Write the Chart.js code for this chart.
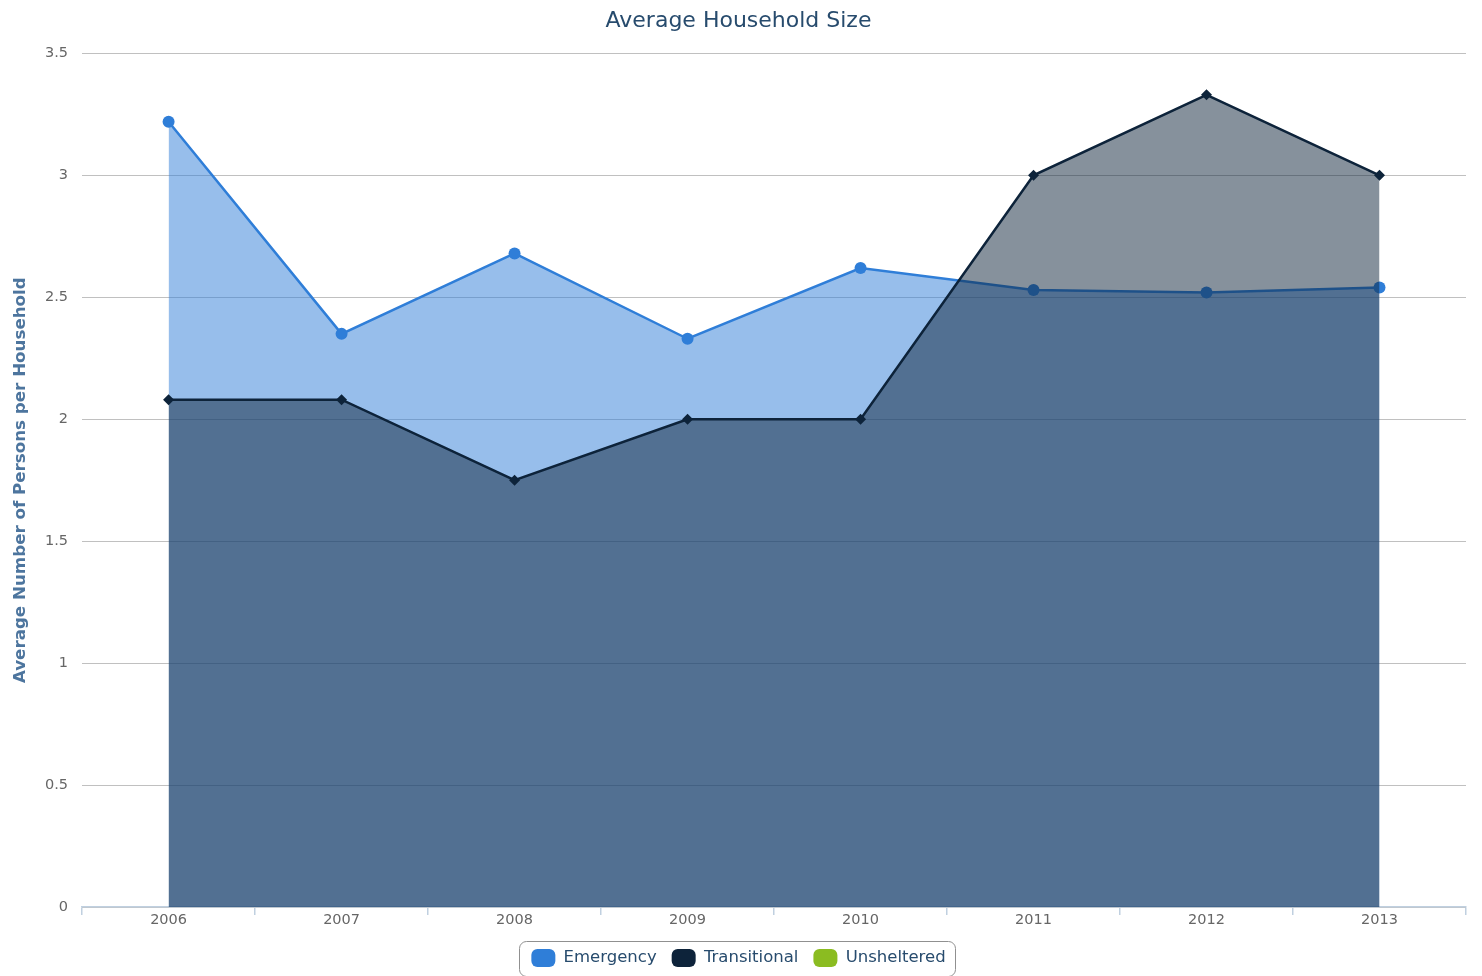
<!DOCTYPE html>
<html>
<head>
<meta charset="utf-8">
<script src="https://cdn.jsdelivr.net/npm/chart.js@4/dist/chart.umd.min.js"></script>
<style>
html,body{margin:0;padding:0;background:#fff;}
#wrap{width:1482px;height:976px;position:relative;}
</style>
</head>
<body>
<div id="wrap"><canvas id="c" width="1482" height="976"></canvas></div>
<script>
const categories = ['2006','2007','2008','2009','2010','2011','2012','2013'];
const emergency = [3.22, 2.35, 2.68, 2.33, 2.62, 2.53, 2.52, 2.54];
const transitional = [2.08, 2.08, 1.75, 2.00, 2.00, 3.00, 3.33, 3.00];
const unsheltered = [];
const seriesNames = ['Emergency','Transitional','Unsheltered'];
const yTicks = [0, 0.5, 1, 1.5, 2, 2.5, 3, 3.5];

const FONT = '"DejaVu Sans", Verdana, sans-serif';

const legendBox = {
  id: 'legendBox',
  afterDraw(chart) {
    const lg = chart.legend;
    if (!lg || !lg.legendHitBoxes || !lg.legendHitBoxes.length) return;
    const hb = lg.legendHitBoxes;
    let x0 = Infinity, x1 = -Infinity, y0 = Infinity, y1 = -Infinity;
    hb.forEach(h => { x0 = Math.min(x0, h.left); x1 = Math.max(x1, h.left + h.width); y0 = Math.min(y0, h.top); y1 = Math.max(y1, h.top + h.height); });
    const ctx = chart.ctx;
    ctx.save();
    ctx.strokeStyle = '#909090';
    ctx.lineWidth = 1;
    ctx.beginPath();
    const cy = (y0 + y1) / 2;
    ctx.roundRect(Math.round(x0 - 12) + 0.5, Math.round(cy - 17.5) + 0.5, Math.round((x1 - x0) + 22), 35, 7);
    ctx.stroke();
    ctx.restore();
  }
};

const colors = ['#2f7ed8', '#0d233a', '#8bbc21'];

new Chart(document.getElementById('c'), {
  type: 'line',
  data: {
    labels: categories,
    datasets: [
      {
        label: seriesNames[0], data: emergency, order: 1,
        borderColor: colors[0], backgroundColor: 'rgba(47,126,216,0.5)',
        borderWidth: 2.5, fill: 'origin', tension: 0,
        pointStyle: 'circle', pointRadius: 6, pointBackgroundColor: colors[0], pointBorderWidth: 0
      },
      {
        label: seriesNames[1], data: transitional, order: 0,
        borderColor: colors[1], backgroundColor: 'rgba(13,35,58,0.5)',
        borderWidth: 2.5, fill: 'origin', tension: 0,
        pointStyle: 'rectRot', pointRadius: 5.5, pointBackgroundColor: colors[1], pointBorderWidth: 0
      },
      {
        label: seriesNames[2], data: unsheltered, order: 0,
        borderColor: colors[2], backgroundColor: 'rgba(139,188,33,0.5)',
        borderWidth: 2.5, fill: 'origin'
      }
    ]
  },
  options: {
    responsive: false,
    animation: false,
    layout: { padding: { left: 11, right: 16, top: 4, bottom: -1 } },
    plugins: {
      tooltip: { enabled: false },
      title: {
        display: true, text: 'Average Household Size',
        color: '#274b6d', font: { family: FONT, size: 22, weight: 'normal' },
        padding: { top: 4, bottom: 19 }
      },
      legend: {
        position: 'bottom',
        labels: {
          color: '#274b6d',
          font: { family: FONT, size: 16.5 },
          boxWidth: 24, boxHeight: 18,
          useBorderRadius: true, borderRadius: 6,
          padding: 15,
          generateLabels(chart) {
            return chart.data.datasets.map((ds, i) => ({
              text: ds.label, fillStyle: colors[i], strokeStyle: colors[i], lineWidth: 0,
              fontColor: '#274b6d', datasetIndex: i, hidden: false, borderRadius: 6
            }));
          }
        }
      }
    },
    scales: {
      x: {
        offset: true,
        afterFit(scale) { scale.height = 27; },
        border: { display: true, color: '#C0D0E0', width: 1.5 },
        grid: { display: true, offset: true, drawOnChartArea: false, drawTicks: true, tickLength: 8, color: '#C0D0E0', lineWidth: 1.5 },
        ticks: { color: '#666666', font: { family: FONT, size: 14.5 }, padding: -3 }
      },
      y: {
        min: 0, max: 3.5,
        afterBuildTicks(axis) { axis.ticks = yTicks.map(v => ({ value: v })); },
        border: { display: false },
        grid: { color: '#C0C0C0', lineWidth: 1, drawTicks: false },
        ticks: { color: '#666666', font: { family: FONT, size: 14.5 }, padding: 14, callback: v => String(v) },
        title: {
          display: true, text: 'Average Number of Persons per Household',
          color: '#4d759e', font: { family: FONT, size: 16.7, weight: 'bold' }, padding: { top: 0, bottom: 0 }
        }
      }
    }
  },
  plugins: [legendBox]
});
</script>
</body>
</html>
